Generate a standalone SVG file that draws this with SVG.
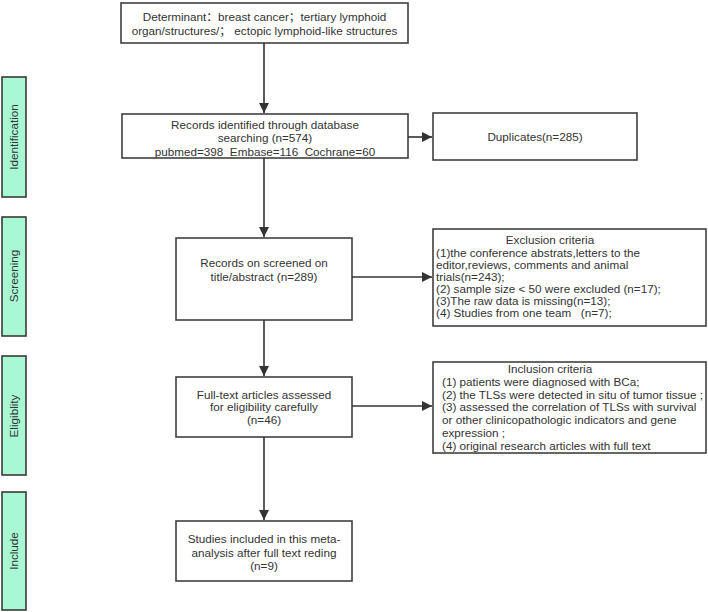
<svg xmlns="http://www.w3.org/2000/svg" width="708" height="612" viewBox="0 0 708 612">
<defs>
<marker id="ah" viewBox="0 0 10 10" refX="10" refY="5" markerWidth="10" markerHeight="10" markerUnits="userSpaceOnUse" orient="auto">
<path d="M0,0 L10,5 L0,10 z" fill="#333"/>
</marker>
</defs>
<style>
.box{fill:#fff;stroke:#404040;stroke-width:1.6}
.side{fill:#a8f8d4;stroke:#3a3a3a;stroke-width:1.6}
.t{font-family:"Liberation Sans","Noto Sans CJK SC",sans-serif;font-size:11.7px;fill:#333}
.c{text-anchor:middle}
.edge{stroke:#333;stroke-width:1.6;fill:none;marker-end:url(#ah)}
</style>
<rect width="708" height="612" fill="#fff"/>
<g id="stage-identification"><rect class="side" x="2" y="77" width="24" height="120"/><text class="t c" transform="translate(18,137) rotate(-90)">Identification</text></g>
<g id="stage-screening"><rect class="side" x="2" y="217" width="24" height="119"/><text class="t c" transform="translate(18,276) rotate(-90)">Screening</text></g>
<g id="stage-eligibility"><rect class="side" x="2" y="356" width="24" height="119"/><text class="t c" transform="translate(18,416) rotate(-90)">Eligiblity</text></g>
<g id="stage-include"><rect class="side" x="2" y="492" width="24" height="118"/><text class="t c" transform="translate(18,551) rotate(-90)">Include</text></g>
<g id="n-determinant"><rect class="box" x="121" y="3" width="287" height="40"/>
<text class="t c" x="264.500" y="21">Determinant：breast cancer；tertiary lymphoid</text>
<text class="t c" x="264.500" y="35">organ/structures/；  ectopic lymphoid-like structures</text></g>
<g id="n-records"><rect class="box" x="122" y="114" width="286" height="44"/>
<text class="t c" x="265" y="129">Records identified through database</text>
<text class="t c" x="265" y="142">searching (n=574)</text>
<text class="t c" x="265" y="156" xml:space="preserve">pubmed=398  Embase=116  Cochrane=60</text></g>
<g id="n-duplicates"><rect class="box" x="433" y="113" width="204" height="47"/>
<text class="t c" x="535" y="141">Duplicates(n=285)</text></g>
<g id="n-screened"><rect class="box" x="176" y="238" width="176" height="82"/>
<text class="t c" x="264" y="267">Records on screened on</text>
<text class="t c" x="264" y="281">title/abstract (n=289)</text></g>
<g id="n-exclusion"><rect class="box" x="433" y="229" width="273" height="97"/>
<text class="t c" x="550" y="244">Exclusion criteria</text>
<text class="t" x="436" y="257">(1)the conference abstrats,letters to the</text>
<text class="t" x="436" y="269">editor,reviews, comments and animal</text>
<text class="t" x="436" y="281">trials(n=243);</text>
<text class="t" x="436" y="293">(2) sample size &lt; 50 were excluded (n=17);</text>
<text class="t" x="436" y="305">(3)The raw data is missing(n=13);</text>
<text class="t" x="436" y="317" xml:space="preserve">(4) Studies from one team   (n=7);</text></g>
<g id="n-fulltext"><rect class="box" x="176" y="377" width="176" height="60"/>
<text class="t c" x="264" y="399">Full-text articles assessed</text>
<text class="t c" x="264" y="411">for eligibility carefully</text>
<text class="t c" x="264" y="424">(n=46)</text></g>
<g id="n-inclusion"><rect class="box" x="433" y="362" width="273" height="91"/>
<text class="t c" x="550" y="373">Inclusion criteria</text>
<text class="t" x="442" y="386">(1) patients were diagnosed with BCa;</text>
<text class="t" x="442" y="399">(2) the TLSs were detected in situ of tumor tissue ;</text>
<text class="t" x="442" y="411">(3) assessed the correlation of TLSs with survival</text>
<text class="t" x="442" y="424">or other clinicopathologic indicators and gene</text>
<text class="t" x="442" y="437">expression ;</text>
<text class="t" x="442" y="450">(4) original research articles with full text</text></g>
<g id="n-included"><rect class="box" x="176" y="521" width="176" height="60"/>
<text class="t c" x="264" y="543">Studies included in this meta-</text>
<text class="t c" x="264" y="557">analysis after full text reding</text>
<text class="t c" x="264" y="570">(n=9)</text></g>
<g id="connectors">
<line class="edge" x1="264" y1="43" x2="264" y2="113"/>
<line class="edge" x1="408" y1="137" x2="432" y2="137"/>
<line class="edge" x1="264" y1="158" x2="264" y2="237"/>
<line class="edge" x1="352" y1="277" x2="432" y2="277"/>
<line class="edge" x1="264" y1="320" x2="264" y2="376"/>
<line class="edge" x1="352" y1="406" x2="432" y2="406"/>
<line class="edge" x1="264" y1="437" x2="264" y2="520"/>
</g>
</svg>
